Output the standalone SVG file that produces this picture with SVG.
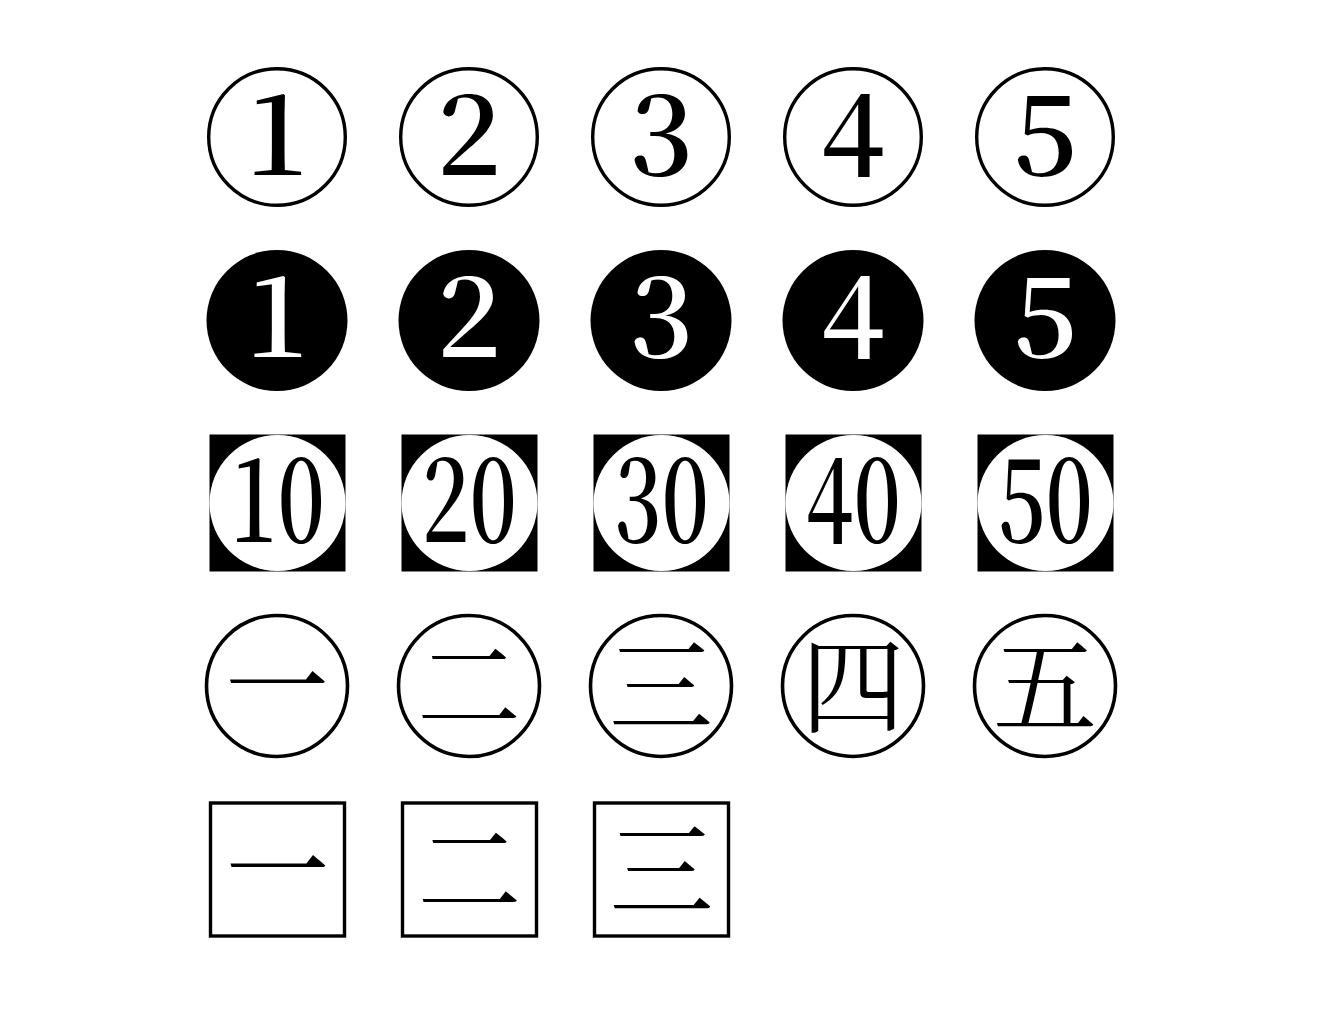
<svg xmlns="http://www.w3.org/2000/svg" width="1318" height="1020" viewBox="0 0 1318 1020">
<style>
.ring{fill:#fff;stroke:#000;stroke-width:3.4}
.ring4{fill:#fff;stroke:#000;stroke-width:3.6}
.disc{fill:#000}
.sq{fill:#000}
.hole{fill:#fff}
.box{fill:#fff;stroke:#000;stroke-width:3.4}
.d1{font-family:"Noto Serif CJK SC","DejaVu Serif",serif;font-weight:600;font-size:112px;text-anchor:middle;fill:#000}
.d2{font-family:"Noto Serif CJK SC","DejaVu Serif",serif;font-weight:600;font-size:112px;text-anchor:middle;fill:#fff}
.d3{font-family:"Noto Serif CJK SC","Liberation Serif",serif;font-weight:600;font-size:117px;text-anchor:middle;fill:#000}
.cjk{font-family:"Noto Serif CJK SC","Noto Sans CJK SC","Noto Sans CJK JP",serif;font-size:104px;text-anchor:middle;fill:#000}
</style>
<rect width="1318" height="1020" fill="#fff"/>
<g id="row1">
<g id="c1"><circle class="ring" cx="277" cy="137" r="68.3"/><text class="d1" x="277" y="175">1</text></g>
<g id="c2"><circle class="ring" cx="469" cy="137" r="68.3"/><text class="d1" x="469" y="175">2</text></g>
<g id="c3"><circle class="ring" cx="661" cy="137" r="68.3"/><text class="d1" x="661" y="175">3</text></g>
<g id="c4"><circle class="ring" cx="853" cy="137" r="68.3"/><text class="d1" x="853" y="175">4</text></g>
<g id="c5"><circle class="ring" cx="1045" cy="137" r="68.3"/><text class="d1" x="1045" y="175">5</text></g>
</g>
<g id="row2">
<g id="n1"><circle class="disc" cx="277" cy="320.5" r="70.5"/><text class="d2" x="277" y="357">1</text></g>
<g id="n2"><circle class="disc" cx="469" cy="320.5" r="70.5"/><text class="d2" x="469" y="357">2</text></g>
<g id="n3"><circle class="disc" cx="661" cy="320.5" r="70.5"/><text class="d2" x="661" y="357">3</text></g>
<g id="n4"><circle class="disc" cx="853" cy="320.5" r="70.5"/><text class="d2" x="853" y="357">4</text></g>
<g id="n5"><circle class="disc" cx="1045" cy="320.5" r="70.5"/><text class="d2" x="1045" y="357">5</text></g>
</g>
<g id="row3">
<g id="s10"><rect class="sq" x="209.5" y="434.5" width="136" height="137"/><circle class="hole" cx="277.5" cy="503" r="68"/><text class="d3" x="277.5" y="542" textLength="95" lengthAdjust="spacingAndGlyphs">10</text></g>
<g id="s20"><rect class="sq" x="401.5" y="434.5" width="136" height="137"/><circle class="hole" cx="469.5" cy="503" r="68"/><text class="d3" x="469.5" y="542" textLength="95" lengthAdjust="spacingAndGlyphs">20</text></g>
<g id="s30"><rect class="sq" x="593.5" y="434.5" width="136" height="137"/><circle class="hole" cx="661.5" cy="503" r="68"/><text class="d3" x="661.5" y="542" textLength="95" lengthAdjust="spacingAndGlyphs">30</text></g>
<g id="s40"><rect class="sq" x="785.5" y="434.5" width="136" height="137"/><circle class="hole" cx="853.5" cy="503" r="68"/><text class="d3" x="853.5" y="542" textLength="95" lengthAdjust="spacingAndGlyphs">40</text></g>
<g id="s50"><rect class="sq" x="977.5" y="434.5" width="136" height="137"/><circle class="hole" cx="1045.5" cy="503" r="68"/><text class="d3" x="1045.5" y="542" textLength="95" lengthAdjust="spacingAndGlyphs">50</text></g>
</g>
<g id="row4">
<g id="k1"><circle class="ring4" cx="277" cy="686" r="70.5"/><text class="cjk" x="277" y="725">一</text></g>
<g id="k2"><circle class="ring4" cx="469" cy="686" r="70.5"/><text class="cjk" x="469" y="725">二</text></g>
<g id="k3"><circle class="ring4" cx="661" cy="686" r="70.5"/><text class="cjk" x="661" y="725">三</text></g>
<g id="k4"><circle class="ring4" cx="853" cy="686" r="70.5"/><text class="cjk" x="853" y="725">四</text></g>
<g id="k5"><circle class="ring4" cx="1045" cy="686" r="70.5"/><text class="cjk" x="1045" y="725">五</text></g>
</g>
<g id="row5">
<g id="q1"><rect class="box" x="210.5" y="803" width="134" height="133"/><text class="cjk" x="277.5" y="909">一</text></g>
<g id="q2"><rect class="box" x="402.5" y="803" width="134" height="133"/><text class="cjk" x="469.5" y="909">二</text></g>
<g id="q3"><rect class="box" x="594.5" y="803" width="134" height="133"/><text class="cjk" x="661.5" y="909">三</text></g>
</g>
</svg>
